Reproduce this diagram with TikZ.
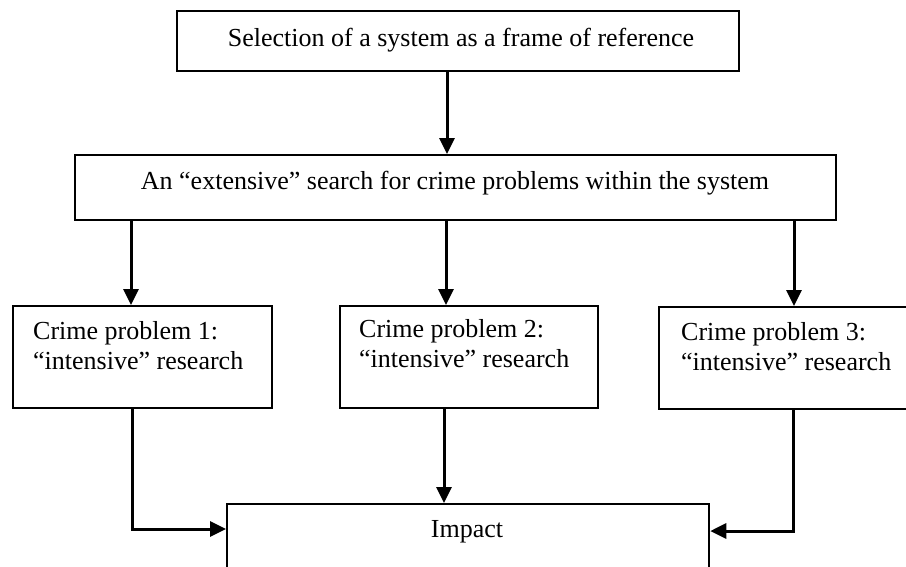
\documentclass[tikz,border=0pt]{standalone}
\usepackage{fontspec}
\setmainfont{Liberation Serif}
\usetikzlibrary{arrows.meta}
\begin{document}
\begin{tikzpicture}[x=1pt,y=-1pt,
  box/.style={draw=black, line width=2.3pt, rectangle, inner sep=0pt},
  txt/.style={inner sep=0pt, font=\fontsize{26}{30}\selectfont},
  arr/.style={line width=3pt, -{Triangle[length=16pt,width=15pt]}}]
\path[use as bounding box, clip] (0,0) rectangle (906,566);

% boxes
\node[box, minimum width=562pt, minimum height=60pt, anchor=north west] (top) at (176,10) {};
\node[box, minimum width=761pt, minimum height=65pt, anchor=north west] (mid) at (74,154) {};
\node[box, minimum width=259pt, minimum height=102pt, anchor=north west] (cp1) at (12,305) {};
\node[box, minimum width=258pt, minimum height=102pt, anchor=north west] (cp2) at (339,305) {};
\node[box, minimum width=262pt, minimum height=102pt, anchor=north west] (cp3) at (658,306) {};
\node[box, minimum width=482pt, minimum height=100pt, anchor=north west] (imp) at (226,503) {};

% texts
\node[txt, anchor=base] (ttop) at (461,46) {Selection of a system as a frame of reference};
\node[txt, anchor=base] (tmid) at (455,189) {An “extensive” search for crime problems within the system};
\node[txt, anchor=base west, align=left] (tcp1) at (33,369) {Crime problem 1:\\“intensive” research};
\node[txt, anchor=base west, align=left] (tcp2) at (359,367) {Crime problem 2:\\“intensive” research};
\node[txt, anchor=base west, align=left] (tcp3) at (681,370) {Crime problem 3:\\“intensive” research};
\node[txt, anchor=base] (timp) at (467,537) {Impact};

% connector columns
\coordinate (c0) at (447,0);
\coordinate (c1) at (131,0);
\coordinate (c2) at (446,0);
\coordinate (c3) at (794,0);
\coordinate (d1) at (132,0);
\coordinate (d2) at (444,0);
\coordinate (d3) at (793,0);
\coordinate (j1) at (0,529);
\coordinate (j3) at (0,531);

\draw[arr] (c0 |- top.south) -- (c0 |- mid.north);
\draw[arr] (c1 |- mid.south) -- (c1 |- cp1.north);
\draw[arr] (c2 |- mid.south) -- (c2 |- cp2.north);
\draw[arr] (c3 |- mid.south) -- (c3 |- cp3.north);

\draw[arr] (d1 |- cp1.south) -- (d1 |- j1) -- (imp.west |- j1);
\draw[arr] (d2 |- cp2.south) -- (d2 |- imp.north);
\draw[arr] (d3 |- cp3.south) -- (d3 |- j3) -- (imp.east |- j3);
\end{tikzpicture}
\end{document}
